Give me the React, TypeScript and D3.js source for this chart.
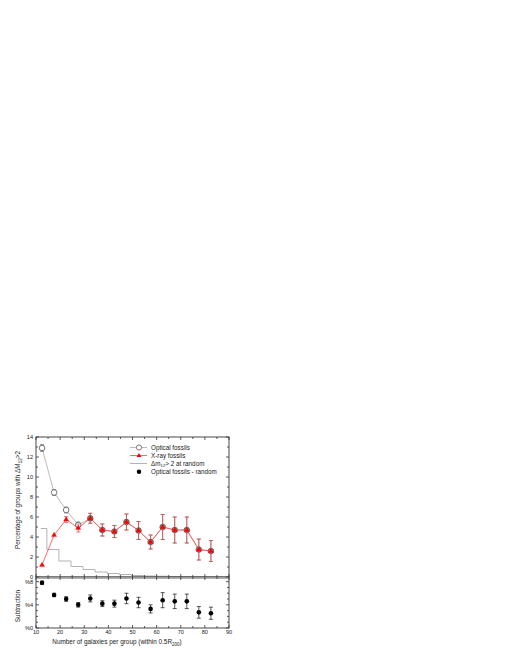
import React from 'react';
import * as d3 from 'd3';

const xPoints = [12.5, 17.5, 22.5, 27.5, 32.5, 37.5, 42.5, 47.5, 52.5, 57.5, 62.5, 67.5, 72.5, 77.5, 82.5];
const opticalVals = [12.9, 8.45, 6.7, 5.2, 5.87, 4.7, 4.55, 5.5, 4.65, 3.5, 5.0, 4.7, 4.7, 2.75, 2.6];
const opticalErr = [0.35, 0.3, 0.3, 0.3, 0.5, 0.6, 0.6, 0.8, 0.9, 0.7, 1.25, 1.3, 1.3, 1.05, 1.05];
const xrayVals = [1.2, 4.2, 5.75, 4.9, 5.87, 4.7, 4.55, 5.5, 4.65, 3.5, 5.0, 4.7, 4.7, 2.75, 2.6];
const xrayErr = [0.0, 0.0, 0.3, 0.4, 0.5, 0.6, 0.6, 0.8, 0.9, 0.7, 1.25, 1.3, 1.3, 1.05, 1.05];
const randomX = [12, 17, 22, 27, 32, 37, 42, 47, 52, 57, 62, 67, 72, 77, 82, 87];
const randomVals = [4.85, 2.75, 1.6, 1.05, 0.75, 0.5, 0.35, 0.25, 0.15, 0.1, 0.08, 0.05, 0.03, 0.02, 0.01, 0.0];
const diffVals = [7.8, 5.7, 5.0, 4.0, 5.1, 4.2, 4.2, 5.1, 4.4, 3.3, 4.8, 4.6, 4.6, 2.7, 2.55];
const diffErr = [0.3, 0.3, 0.4, 0.4, 0.6, 0.5, 0.6, 0.9, 0.9, 0.7, 1.3, 1.25, 1.25, 1.0, 1.05];
const xTicks = [10, 20, 30, 40, 50, 60, 70, 80, 90];
const mainYTicks = [0, 2, 4, 6, 8, 10, 12, 14];
const subYTicks = [0, 4, 8];
const subYLabels = ['%0', '%4', '%8'];

const FONT = 'Liberation Sans, Arial, sans-serif';

export default function App() {
  const x = d3.scaleLinear().domain([10, 90]).range([36, 229]);
  const y = d3.scaleLinear().domain([0, 14]).range([577, 437]);
  const yb = d3.scaleLinear().domain([0, 8.8]).range([628, 577]);
  const L = x(10), R = x(90);
  const axisColor = '#333';

  const opticalLine = d3.line<number>().x((_, i) => x(xPoints[i])).y((d) => y(d));
  const randomPts: [number, number][] = [];
  randomVals.forEach((v, i) => {
    const x0 = i === 0 ? randomX[0] : randomX[i] - 2.5;
    const x1 = i === randomVals.length - 1 ? randomX[i] : randomX[i] + 2.5;
    randomPts.push([x(x0), y(v)]);
    randomPts.push([x(x1), y(v)]);
  });
  const stepLine = d3.line<[number, number]>().x((d) => d[0]).y((d) => d[1]);

  const minorX = d3.range(10, 91, 5);
  const tri = (cx: number, cy: number, s: number) =>
    `M${cx},${cy - s}L${cx + s * 0.95},${cy + s * 0.6}L${cx - s * 0.95},${cy + s * 0.6}Z`;

  return (
    <svg width={512} height={663} style={{ display: 'block', position: 'absolute', left: 0, top: 0 }} fontFamily={FONT}>
      <rect width={512} height={663} fill="#fff" />
      <path d={stepLine(randomPts) || ''} fill="none" stroke="#aaa" strokeWidth={0.9} />

      <path d={opticalLine(opticalVals) || ''} fill="none" stroke="#aaa" strokeWidth={0.8} />
      {opticalVals.map((v, i) => (
        <g key={'oe' + i} stroke="#777" strokeWidth={0.7}>
          <line x1={x(xPoints[i])} x2={x(xPoints[i])} y1={y(v - opticalErr[i])} y2={y(v + opticalErr[i])} />
          <line x1={x(xPoints[i]) - 2} x2={x(xPoints[i]) + 2} y1={y(v - opticalErr[i])} y2={y(v - opticalErr[i])} />
          <line x1={x(xPoints[i]) - 2} x2={x(xPoints[i]) + 2} y1={y(v + opticalErr[i])} y2={y(v + opticalErr[i])} />
        </g>
      ))}
      {opticalVals.map((v, i) => (
        <circle key={'oc' + i} cx={x(xPoints[i])} cy={y(v)} r={2.8} fill={i >= 4 ? '#888' : '#fff'} stroke="#555" strokeWidth={0.8} />
      ))}

      <path d={opticalLine(xrayVals) || ''} fill="none" stroke="#f44" strokeWidth={0.8} />
      {xrayVals.map((v, i) =>
        xrayErr[i] > 0 ? (
          <g key={'xe' + i} stroke="#d44" strokeWidth={0.8} opacity={0.85}>
            <line x1={x(xPoints[i])} x2={x(xPoints[i])} y1={y(v - xrayErr[i])} y2={y(v + xrayErr[i])} />
            <line x1={x(xPoints[i]) - 2} x2={x(xPoints[i]) + 2} y1={y(v - xrayErr[i])} y2={y(v - xrayErr[i])} />
            <line x1={x(xPoints[i]) - 2} x2={x(xPoints[i]) + 2} y1={y(v + xrayErr[i])} y2={y(v + xrayErr[i])} />
          </g>
        ) : null
      )}
      {xrayVals.map((v, i) => (
        <path key={'xt' + i} d={tri(x(xPoints[i]), y(v), 2.7)} fill="#f00" stroke="#e00" strokeWidth={0.3} />
      ))}

      {diffVals.map((v, i) => (
        <g key={'d' + i} stroke="#111" strokeWidth={0.7}>
          <line x1={x(xPoints[i])} x2={x(xPoints[i])} y1={yb(v - diffErr[i])} y2={yb(v + diffErr[i])} />
          <line x1={x(xPoints[i]) - 2} x2={x(xPoints[i]) + 2} y1={yb(v - diffErr[i])} y2={yb(v - diffErr[i])} />
          <line x1={x(xPoints[i]) - 2} x2={x(xPoints[i]) + 2} y1={yb(v + diffErr[i])} y2={yb(v + diffErr[i])} />
          <circle cx={x(xPoints[i])} cy={yb(v)} r={2.3} fill="#000" stroke="none" />
        </g>
      ))}

      <rect x={L} y={y(14)} width={R - L} height={y(0) - y(14)} fill="none" stroke={axisColor} strokeWidth={0.9} />
      <rect x={L} y={yb(8.8)} width={R - L} height={yb(0) - yb(8.8)} fill="none" stroke={axisColor} strokeWidth={0.9} />
      <line x1={L} x2={R} y1={y(0) + 0.8} y2={y(0) + 0.8} stroke="#999" strokeWidth={2} />

      {minorX.map((t) => {
        const len = t % 10 === 0 ? 3 : 2;
        return (
          <g key={'xt' + t} stroke={axisColor} strokeWidth={0.8}>
            <line x1={x(t)} x2={x(t)} y1={y(14)} y2={y(14) + len} />
            <line x1={x(t)} x2={x(t)} y1={y(0) - len} y2={y(0) + len} />
            <line x1={x(t)} x2={x(t)} y1={yb(0)} y2={yb(0) - len} />
          </g>
        );
      })}
      {xTicks.map((t) => (
        <text key={'xl' + t} x={x(t)} y={634} fontSize={5.6} textAnchor="middle" fill="#222">{t}</text>
      ))}

      {d3.range(0, 15, 1).map((t) => {
        const len = t % 2 === 0 ? 3 : 2;
        return (
          <g key={'yt' + t} stroke={axisColor} strokeWidth={0.8}>
            <line x1={L} x2={L + len} y1={y(t)} y2={y(t)} />
            <line x1={R} x2={R - len} y1={y(t)} y2={y(t)} />
          </g>
        );
      })}
      {mainYTicks.map((t) => (
        <text key={'yl' + t} x={L - 3} y={y(t) + 2} fontSize={5.6} textAnchor="end" fill="#222">{t}</text>
      ))}

      {d3.range(0, 9, 1).map((t) => {
        const len = t % 4 === 0 ? 3 : 2;
        return (
          <g key={'sbt' + t} stroke={axisColor} strokeWidth={0.8}>
            <line x1={L} x2={L + len} y1={yb(t)} y2={yb(t)} />
            <line x1={R} x2={R - len} y1={yb(t)} y2={yb(t)} />
          </g>
        );
      })}
      {subYTicks.map((t, i) => (
        <text key={'sl' + t} x={L - 3} y={yb(t) + 2} fontSize={5.6} textAnchor="end" fill="#222">{subYLabels[i]}</text>
      ))}

      <text transform="translate(20,500) rotate(-90)" fontSize={6.4} textAnchor="middle" fill="#222">
        Percentage of groups with ΔM
        <tspan fontSize={4.5} dy={1.8}>12</tspan>
        <tspan dy={-1.8}>&gt;2</tspan>
      </text>
      <text transform="translate(20,606) rotate(-90)" fontSize={6.4} textAnchor="middle" fill="#222">Subtraction</text>
      <text x={117} y={644} fontSize={6.4} textAnchor="middle" fill="#222">
        Number of galaxies per group (within 0.5R
        <tspan fontSize={4.5} dy={1.8}>200</tspan>
        <tspan dy={-1.8}>)</tspan>
      </text>

      <g fontSize={6.3} fill="#222">
        <line x1={130} x2={147} y1={447.5} y2={447.5} stroke="#aaa" strokeWidth={0.8} />
        <circle cx={139} cy={447.5} r={2.6} fill="#fff" stroke="#555" strokeWidth={0.8} />
        <text x={151} y={449.7}>Optical fossils</text>
        <line x1={130} x2={147} y1={455.5} y2={455.5} stroke="#f44" strokeWidth={0.8} />
        <path d={tri(139, 455.5, 2.6)} fill="#f00" />
        <text x={151} y={457.7}>X-ray fossils</text>
        <line x1={130} x2={147} y1={463.5} y2={463.5} stroke="#aaa" strokeWidth={0.9} />
        <text x={151} y={465.7}>
          Δm
          <tspan fontSize={4.4} dy={1.6}>12</tspan>
          <tspan dy={-1.6}>&gt; 2 at random</tspan>
        </text>
        <circle cx={139} cy={471.7} r={2.2} fill="#000" />
        <text x={151} y={473.9}>Optical fossils - random</text>
      </g>
    </svg>
  );
}
